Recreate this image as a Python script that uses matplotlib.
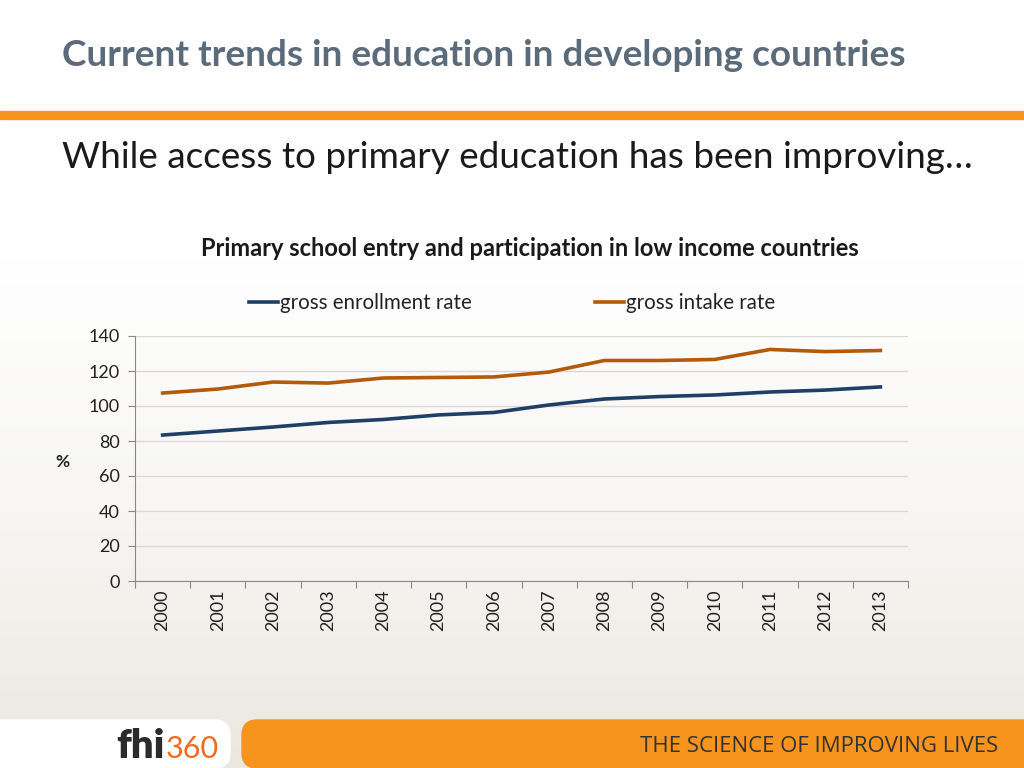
import matplotlib
matplotlib.use("Agg")
import matplotlib.pyplot as plt
import numpy as np
from matplotlib.patches import FancyBboxPatch, Rectangle
from matplotlib.colors import LinearSegmentedColormap

years = ["2000", "2001", "2002", "2003", "2004", "2005", "2006",
         "2007", "2008", "2009", "2010", "2011", "2012", "2013"]
gross_enrollment = [83.4, 85.7, 88.0, 90.6, 92.3, 94.9, 96.3,
                    100.6, 104.0, 105.4, 106.3, 108.0, 109.1, 110.9]
gross_intake = [107.4, 109.7, 113.7, 113.1, 116.0, 116.3, 116.6,
                119.4, 126.0, 126.0, 126.6, 132.3, 131.1, 131.7]
yticks = [0, 20, 40, 60, 80, 100, 120, 140]

FONT = "Lato"
plt.rcParams["font.family"] = [FONT, "DejaVu Sans"]

fig = plt.figure(figsize=(10.24, 7.68), dpi=100)

# background gradient
bg = fig.add_axes([0, 0, 1, 1], zorder=-10)
grad = np.linspace(0, 1, 256).reshape(-1, 1)
cmap = LinearSegmentedColormap.from_list("bg", ["#ebe8e1", "#f7f6f3", "#ffffff", "#ffffff"])
bg.imshow(grad, aspect="auto", cmap=cmap, extent=[0, 1, 0, 1], origin="lower")
bg.set_xlim(0, 1); bg.set_ylim(0, 1); bg.axis("off")

W, H = 1024, 768
def fx(x): return x / W
def fy(y): return 1 - y / H

# title
fig.text(fx(62), fy(56), "Current trends in education in developing countries",
         fontsize=26.6, fontweight="bold", color="#5b6b79", va="center", ha="left")
# orange rule
bg.add_patch(Rectangle((0, fy(119)), 1, (119 - 111) / H, color="#f7941d", transform=bg.transAxes))
# subtitle
fig.text(fx(62), fy(157), "While access to primary education has been improving\u2026",
         fontsize=26.6, color="#1a1a1a", va="center", ha="left")
# chart title
fig.text(fx(530), fy(248), "Primary school entry and participation in low income countries",
         fontsize=17, fontweight="bold", color="#1a1a1a", va="center", ha="center")

# footer
bg.add_patch(FancyBboxPatch((fx(242), fy(768)), fx(1024 - 242) + 0.05, (768 - 720) / H,
                            boxstyle="round,pad=0,rounding_size=0.015", color="#f7941d",
                            transform=bg.transAxes, mutation_aspect=1.33))
bg.add_patch(FancyBboxPatch((-0.05, fy(768)), fx(230) + 0.05, (768 - 720) / H,
                            boxstyle="round,pad=0,rounding_size=0.015", color="#ffffff",
                            transform=bg.transAxes, mutation_aspect=1.33))
fig.text(fx(116), fy(747), "fhi", fontsize=29, fontweight="heavy", color="#2b2b2b",
         va="center", ha="left")
fig.text(fx(166), fy(749), "360", fontsize=22, color="#f26a21", va="center", ha="left")
fig.text(fx(998), fy(747), "THE SCIENCE OF IMPROVING LIVES", fontsize=16,
         color="#333333", va="center", ha="right", family=["Open Sans", "DejaVu Sans"])

# chart axes
ax = fig.add_axes([fx(135), fy(581), fx(908 - 135), (581 - 336) / H])
ax.patch.set_alpha(0)
x = np.arange(len(years))
l1, = ax.plot(x, gross_enrollment, color="#1f3f66", lw=2.6, label="gross enrollment rate")
l2, = ax.plot(x, gross_intake, color="#b35a0b", lw=2.6, label="gross intake rate")
ax.set_xlim(-0.5, len(years) - 0.5)
ax.set_ylim(0, 140)
ax.set_yticks(yticks)
ax.set_yticklabels([str(v) for v in yticks], fontsize=13, color="#222222")
ax.set_xticks(np.arange(len(years) + 1) - 0.5)
ax.set_xticklabels([])
ax.set_xticks(x, minor=True)
ax.set_xticklabels(years, minor=True, rotation=90, fontsize=13, color="#222222")
ax.tick_params(axis="x", which="minor", length=0, pad=6)
ax.tick_params(axis="x", which="major", length=5, color="#888888", direction="out")
ax.tick_params(axis="y", length=5, color="#888888", pad=6)
ax.grid(axis="y", color="#d9d9d9", lw=1)
for s in ["top", "right"]:
    ax.spines[s].set_visible(False)
ax.spines["left"].set_color("#888888")
ax.spines["bottom"].set_color("#888888")
ax.set_axisbelow(True)

fig.text(fx(62), fy(462), "%", fontsize=12.5, fontweight="bold", color="#222222",
         va="center", ha="center")

leg = fig.legend(handles=[l1, l2], loc="center", bbox_to_anchor=(fx(512), fy(303)),
                 ncol=2, frameon=False, fontsize=14.8, handlelength=1.4, handletextpad=0.1,
                 columnspacing=6.0)
for t in leg.get_texts():
    t.set_color("#222222")

fig.savefig("out.png", dpi=100)
